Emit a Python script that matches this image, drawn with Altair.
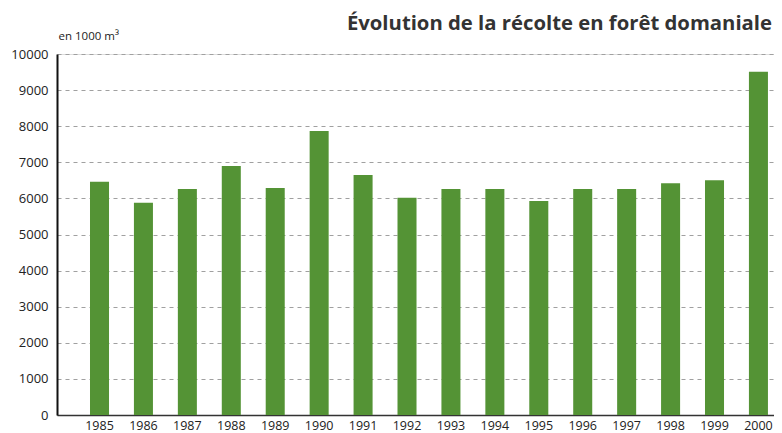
import altair as alt
import pandas as pd

years = ["1985", "1986", "1987", "1988", "1989", "1990", "1991", "1992",
         "1993", "1994", "1995", "1996", "1997", "1998", "1999", "2000"]
values = [6460, 5880, 6260, 6900, 6290, 7870, 6650, 6020,
          6260, 6260, 5930, 6260, 6260, 6420, 6500, 9510]
y_ticks = [0, 1000, 2000, 3000, 4000, 5000, 6000, 7000, 8000, 9000, 10000]
title_text = "Évolution de la récolte en forêt domaniale"
unit_text = "en 1000 m³"

df = pd.DataFrame({"year": years, "value": values})

FONT = "Open Sans"

chart = alt.Chart(df).mark_bar(color="#549335").encode(
    x=alt.X(
        "year:N", sort=None,
        scale=alt.Scale(paddingInner=0.567, paddingOuter=0.4445, align=0.845),
        axis=alt.Axis(title=None, labelAngle=0, ticks=False, domain=True,
                      domainColor="#333333", domainWidth=1.5, labelPadding=4,
                      labelFont=FONT, labelFontSize=12.5, labelColor="#222222",
                      grid=False),
    ),
    y=alt.Y(
        "value:Q",
        scale=alt.Scale(domain=[0, 10000], nice=False),
        axis=alt.Axis(values=y_ticks, format="d", title=unit_text, titleAngle=0,
                      titleX=1, titleY=-15, titleAlign="left",
                      titleBaseline="alphabetic", titleFont=FONT,
                      titleFontSize=11.5, titleFontWeight="normal",
                      titleColor="#222222", labelPadding=9, ticks=False,
                      domainColor="#111111", domainWidth=2,
                      gridDash=[4, 4], gridColor="#a0a0a0", gridWidth=1.2,
                      labelFont=FONT, labelFontSize=13, labelColor="#222222"),
    ),
).properties(
    width=717, height=361,
    padding={"left": 49, "top": 46, "right": 0, "bottom": 18},
    autosize="none",
    title=alt.Title(title_text, anchor="end", font=FONT, fontSize=20.3,
                    fontWeight="bold", color="#333333", dx=-2, dy=8,
                    frame="group"),
).configure_view(stroke=None).configure(background="white")

chart.save("out.html", embed_options={"renderer": "svg", "actions": False})
